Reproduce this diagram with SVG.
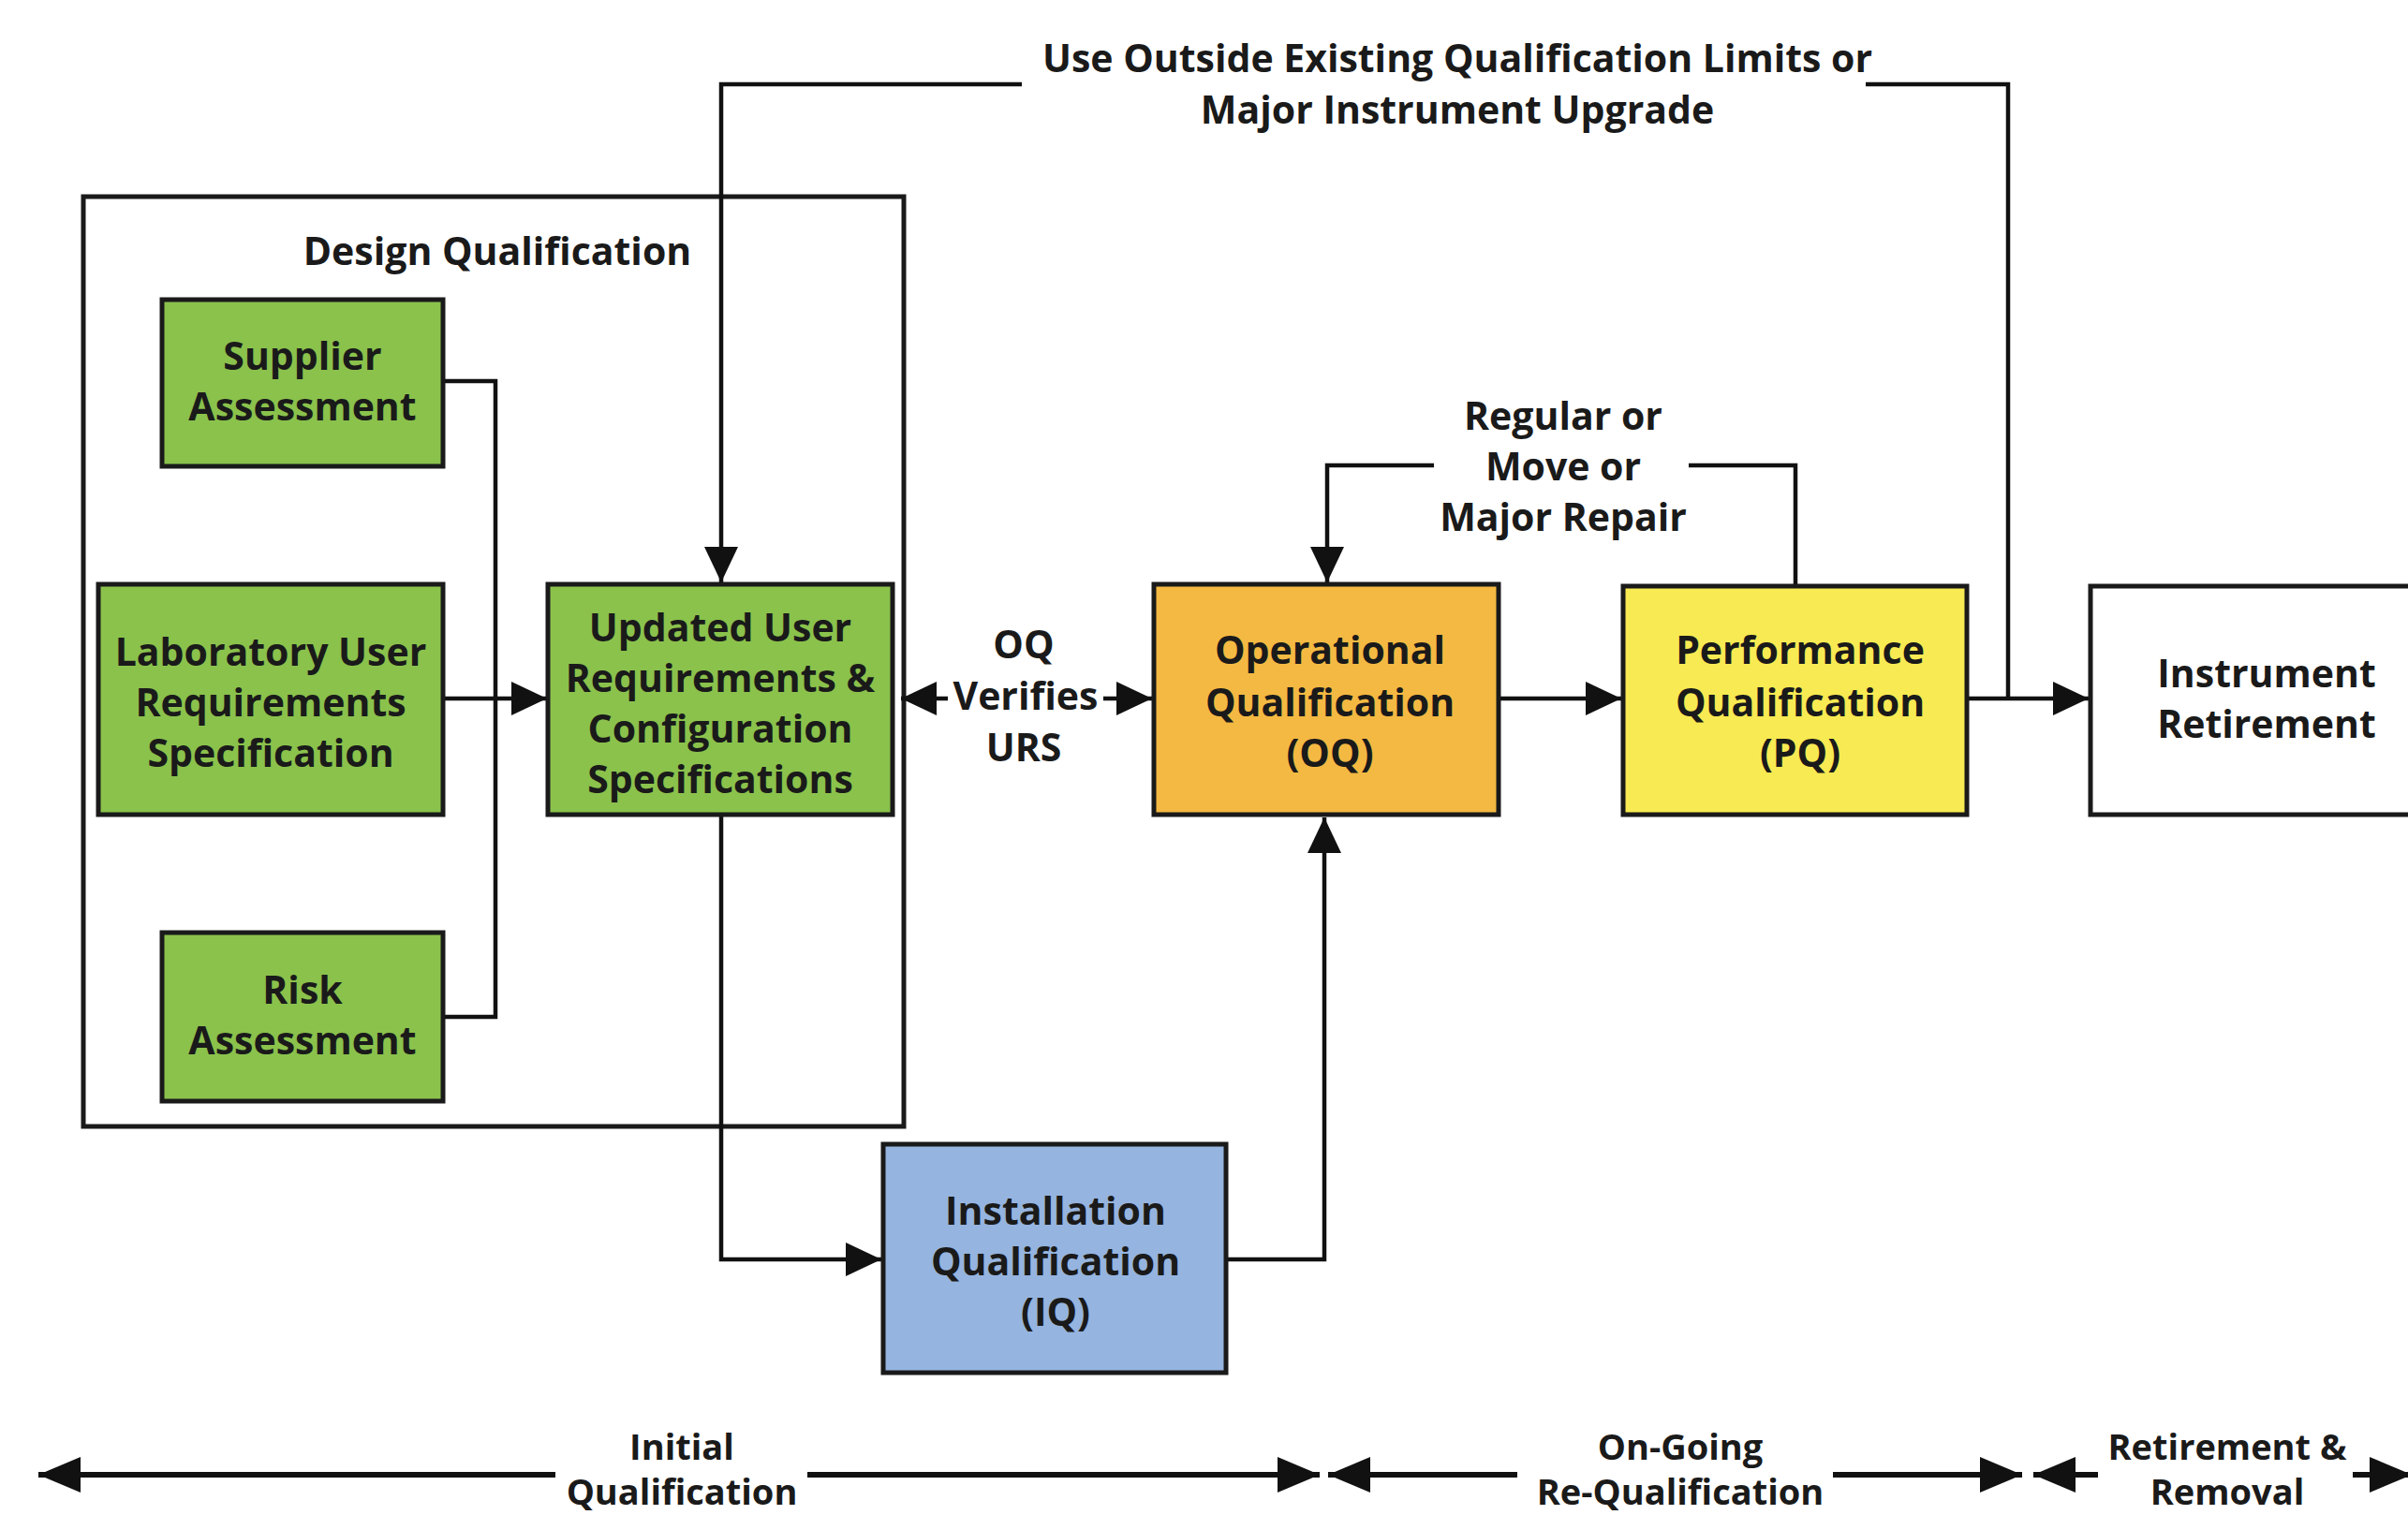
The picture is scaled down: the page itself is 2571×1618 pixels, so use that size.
<svg xmlns="http://www.w3.org/2000/svg" width="2571" height="1618" viewBox="0 0 2571 1618">
<style>
.box{stroke:#1a1a1a;stroke-width:5}
.g{fill:#8AC24C}
.o{fill:#F4B942}
.y{fill:#F8EA52}
.b{fill:#95B4DF}
.w{fill:#ffffff}
.frame{fill:none;stroke:#1a1a1a;stroke-width:5}
.c{fill:none;stroke:#111;stroke-width:4.5}
.t{stroke:#111;stroke-width:6;fill:none}
text{font-family:"Open Sans","Noto Sans","DejaVu Sans",sans-serif;font-weight:700;font-size:41px;fill:#1a1a1a;text-anchor:middle}
.tl{font-size:38px}
</style>
<defs>
<marker id="a" markerUnits="userSpaceOnUse" markerWidth="40" markerHeight="36" refX="38" refY="18" orient="auto">
<path d="M0,0 L38,18 L0,36 Z" fill="#111"/>
</marker>
<marker id="ta" markerUnits="userSpaceOnUse" markerWidth="46" markerHeight="38" refX="45" refY="19" orient="auto">
<path d="M0,0 L45,19 L0,38 Z" fill="#111"/>
</marker>
</defs>
<rect width="2571" height="1618" fill="#ffffff"/>

<g id="design-qualification">
<rect class="frame" x="89" y="210" width="876" height="993"/>
<text x="531" y="283">Design Qualification</text>
</g>

<g id="connectors">
<path class="c" d="M2144,746 V90 H1992"/>
<path class="c" d="M1091,90 H770 V622" marker-end="url(#a)"/>
<path class="c" d="M1917,626 V497 H1803"/>
<path class="c" d="M1531,497 H1417 V622" marker-end="url(#a)"/>
<path class="c" d="M473,407 H529 V1086 H473"/>
<path class="c" d="M473,746 H584" marker-end="url(#a)"/>
<path class="c" d="M1012,746 H962" marker-end="url(#a)"/>
<path class="c" d="M1178,746 H1230" marker-end="url(#a)"/>
<path class="c" d="M1600,746 H1731" marker-end="url(#a)"/>
<path class="c" d="M2100,746 H2230" marker-end="url(#a)"/>
<path class="c" d="M770,870 V1345 H941" marker-end="url(#a)"/>
<path class="c" d="M1309,1345 H1414 V873" marker-end="url(#a)"/>
<text x="1556" y="77">Use Outside Existing Qualification Limits or</text>
<text x="1556" y="132">Major Instrument Upgrade</text>
<text x="1669" y="459">Regular or</text>
<text x="1669" y="513">Move or</text>
<text x="1669" y="567">Major Repair</text>
<text x="1093" y="703">OQ</text>
<text x="1095" y="758">Verifies</text>
<text x="1093" y="813">URS</text>
</g>

<g id="supplier-assessment">
<rect class="box g" x="173" y="320" width="300" height="178"/>
<text x="323" y="395">Supplier</text>
<text x="323" y="449">Assessment</text>
</g>
<g id="laboratory-urs">
<rect class="box g" x="105" y="624" width="368" height="246"/>
<text x="289" y="711">Laboratory User</text>
<text x="289" y="765">Requirements</text>
<text x="289" y="819">Specification</text>
</g>
<g id="risk-assessment">
<rect class="box g" x="173" y="996" width="300" height="180"/>
<text x="323" y="1072">Risk</text>
<text x="323" y="1126">Assessment</text>
</g>
<g id="updated-urs">
<rect class="box g" x="585" y="624" width="368" height="246"/>
<text x="769" y="685">Updated User</text>
<text x="769" y="739">Requirements &amp;</text>
<text x="769" y="793">Configuration</text>
<text x="769" y="847">Specifications</text>
</g>
<g id="oq">
<rect class="box o" x="1232" y="624" width="368" height="246"/>
<text x="1420" y="709">Operational</text>
<text x="1420" y="765">Qualification</text>
<text x="1420" y="819">(OQ)</text>
</g>
<g id="pq">
<rect class="box y" x="1733" y="626" width="367" height="244"/>
<text x="1922" y="709">Performance</text>
<text x="1922" y="765">Qualification</text>
<text x="1922" y="819">(PQ)</text>
</g>
<g id="instrument-retirement">
<rect class="box w" x="2232" y="626" width="360" height="244"/>
<text x="2420" y="734">Instrument</text>
<text x="2420" y="788">Retirement</text>
</g>
<g id="iq">
<rect class="box b" x="943" y="1222" width="366" height="244"/>
<text x="1127" y="1308">Installation</text>
<text x="1127" y="1362">Qualification</text>
<text x="1127" y="1416">(IQ)</text>
</g>

<g id="timeline">
<path class="t" d="M593,1575 H41" marker-end="url(#ta)"/>
<path class="t" d="M862,1575 H1409" marker-end="url(#ta)"/>
<path class="t" d="M1620,1575 H1418" marker-end="url(#ta)"/>
<path class="t" d="M1957,1575 H2159" marker-end="url(#ta)"/>
<path class="t" d="M2240,1575 H2171" marker-end="url(#ta)"/>
<path class="t" d="M2512,1575 H2575" marker-end="url(#ta)"/>
<text class="tl" x="728" y="1559">Initial</text>
<text class="tl" x="728" y="1607">Qualification</text>
<text class="tl" x="1794" y="1559">On-Going</text>
<text class="tl" x="1794" y="1607">Re-Qualification</text>
<text class="tl" x="2378" y="1559">Retirement &amp;</text>
<text class="tl" x="2378" y="1607">Removal</text>
</g>
</svg>
